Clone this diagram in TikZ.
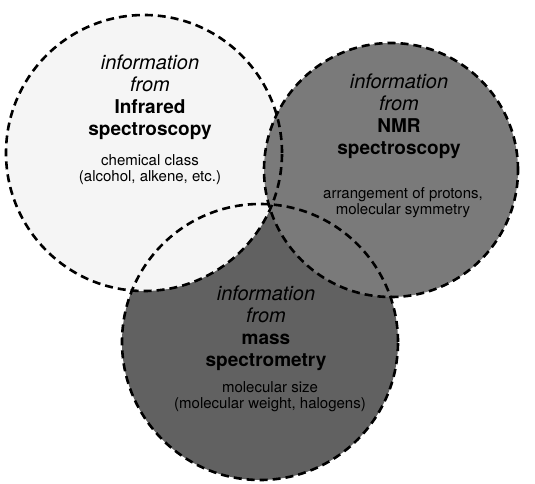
\documentclass[tikz,border=0pt]{standalone}
\usepackage{fontspec}
\setmainfont{TeX Gyre Heros}
\newcommand{\infofrom}{\fontsize{20}{22}\selectfont\itshape}
\begin{document}
\begin{tikzpicture}[x=1pt,y=-1pt,
  ring/.style={draw=black, line width=2.6pt, dash pattern=on 8pt off 5pt},
  title/.style={align=center, font=\fontsize{19}{22}\selectfont, inner sep=0pt},
  info/.style={align=center, font=\fontsize{15}{16}\selectfont, inner sep=0pt}]
\useasboundingbox (0,0) rectangle (535,484);
% fills first, mass spectrometry at the back
\fill[black!62] (260,342) circle (138pt);
\fill[black!4] (144,153) circle (138pt);
\fill[black!52] (391,170) circle (127pt);
% dashed outlines over all fills
\draw[ring] (260,342) circle (138pt);
\draw[ring] (144,153) circle (138pt);
\draw[ring] (391,170) circle (127pt);
% infrared
\node[title] (irtitle) at (150,97) {{\infofrom information}\\{\infofrom from}\\\textbf{Infrared}\\\textbf{spectroscopy}};
\node[info] (irinfo) at (150,170) {chemical class\\(alcohol, alkene, etc.)};
% nmr
\node[title] (nmrtitle) at (399,116) {{\infofrom information}\\{\infofrom from}\\\textbf{NMR}\\\textbf{spectroscopy}};
\node[info] (nmrinfo) at (403,203) {arrangement of protons,\\molecular symmetry};
% mass
\node[title] (mstitle) at (266,328) {{\infofrom information}\\{\infofrom from}\\\textbf{mass}\\\textbf{spectrometry}};
\node[info] (msinfo) at (270,397) {molecular size\\(molecular weight, halogens)};
\end{tikzpicture}
\end{document}
